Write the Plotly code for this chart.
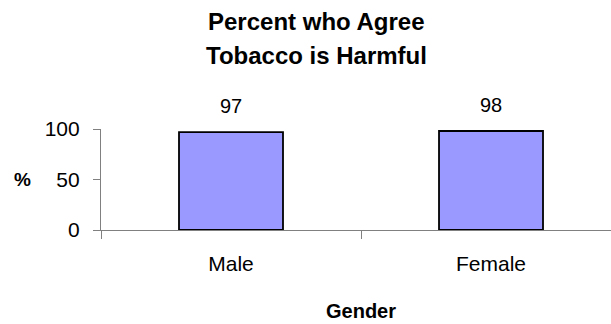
import plotly.graph_objects as go

genders = ["Male", "Female"]
agree_pct = [97, 98]
y_ticks = [0, 50, 100]
title_lines = ["Percent who Agree", "Tobacco is Harmful"]

fig = go.Figure()
fig.add_trace(go.Bar(
    x=genders, y=agree_pct, width=0.40,
    marker=dict(color="#9999FF", line=dict(color="black", width=1.8)),
    hoverinfo="skip",
))

# value labels above the bars
for g, v in zip(genders, agree_pct):
    fig.add_annotation(x=g, y=v, text=str(v), showarrow=False,
                       yanchor="bottom", yshift=13,
                       font=dict(family="Arial", size=20, color="black"))

fig.update_layout(
    width=611, height=324,
    margin=dict(l=101, r=0, t=129, b=94),
    paper_bgcolor="white", plot_bgcolor="white",
    showlegend=False,
    font=dict(family="Arial", size=21, color="black"),
)
fig.update_xaxes(
    range=[-0.5, 1.4615], showline=True, linecolor="#808080", linewidth=1.2,
    ticks="outside", tickson="boundaries", ticklen=8, tickcolor="#808080",
    ticklabelstandoff=15, showgrid=False, automargin=False,
)
fig.update_yaxes(
    range=[0, 100], tickvals=y_ticks, showline=True, linecolor="#808080",
    linewidth=1.2, ticks="outside", ticklen=7, tickcolor="#808080",
    ticklabelstandoff=9, showgrid=False, zeroline=False, automargin=False,
)

# title, two lines
for txt, yy in zip(title_lines, [2.069, 1.723]):
    fig.add_annotation(text="<b>" + txt + "</b>", x=0.4216, y=yy,
                       xref="paper", yref="paper", xanchor="center",
                       yanchor="middle", showarrow=False,
                       font=dict(family="Arial", size=24, color="black"))

# axis titles
fig.add_annotation(text="<b>Gender</b>", x=0.5, y=-0.80, xref="x", yref="paper",
                   xanchor="center", yanchor="middle", showarrow=False,
                   font=dict(size=20))
fig.add_annotation(text="<b>%</b>", x=-0.153, y=50, xref="paper", yref="y",
                   xanchor="center", yanchor="middle", showarrow=False,
                   font=dict(size=19))

# page body has a default 8px margin, drop it so the chart sits at 0,0
fig.write_html("out.html", config={"displayModeBar": False},
               post_script="document.body.style.margin='0px';")
